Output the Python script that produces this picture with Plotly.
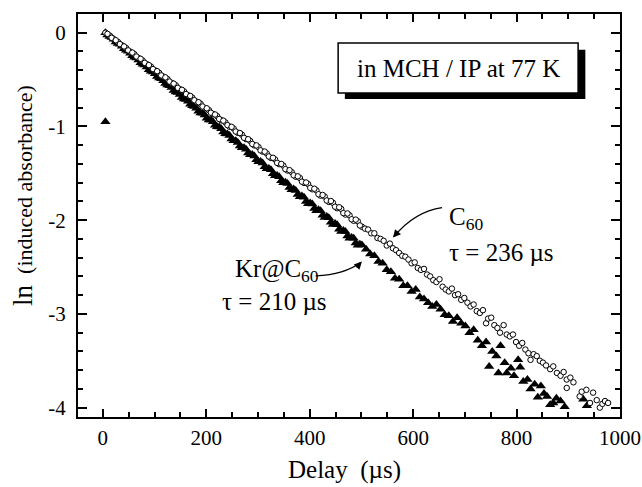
import plotly.graph_objects as go

# ---------------- data ----------------
c60_delay = [5, 13, 21, 29, 37, 45, 53, 61, 69, 77, 85, 93, 101, 109, 117, 125, 133, 141, 149, 157,
             165, 173, 181, 189, 197, 205, 213, 221, 229, 237, 245, 253, 261, 269, 277, 285, 293, 301,
             309, 317, 325, 333, 341, 349, 357, 365, 373, 381, 389, 397, 405, 413, 421, 429, 437, 445,
             453, 461, 469, 477, 485, 493, 501,
             507, 513, 519, 525, 531, 537, 543, 549, 555, 561, 567, 573, 579, 585, 591, 597, 603, 609,
             615, 621, 627, 633, 639, 645, 651, 657, 663, 669, 675, 681, 687, 693, 699, 705, 711, 717,
             723, 729, 735, 741, 745, 751, 757, 763, 768, 775, 781, 787, 793, 799, 805, 811, 817, 823,
             827, 833, 839, 845, 851, 857, 865, 871, 878, 885, 891, 897, 897, 904, 910, 922, 926, 935,
             942, 948, 955, 961, 966, 971, 977]
c60_ln = [0.000, -0.030, -0.068, -0.097, -0.135, -0.163, -0.202, -0.228, -0.270, -0.296, -0.335,
          -0.361, -0.402, -0.428, -0.468, -0.494, -0.535, -0.560, -0.603, -0.626, -0.668, -0.692,
          -0.735, -0.758, -0.802, -0.825, -0.868, -0.890, -0.934, -0.957, -1.002, -1.022, -1.068,
          -1.088, -1.135, -1.155, -1.202, -1.220, -1.268, -1.288, -1.336, -1.352, -1.402, -1.418,
          -1.470, -1.486, -1.536, -1.550, -1.602, -1.615, -1.670, -1.682, -1.738, -1.748, -1.805,
          -1.815, -1.872, -1.880, -1.940, -1.948, -2.006, -2.012, -2.070,
          -2.09, -2.10, -2.14, -2.14, -2.19, -2.20, -2.22, -2.27, -2.25, -2.30, -2.32, -2.35, -2.38,
          -2.39, -2.42, -2.46, -2.45, -2.51, -2.53, -2.52, -2.58, -2.60, -2.64, -2.66, -2.63, -2.71,
          -2.74, -2.76, -2.73, -2.80, -2.79, -2.85, -2.83, -2.88, -2.92, -2.90, -2.97, -2.99, -2.96,
          -3.10, -3.05, -3.04, -3.12, -3.15, -3.20, -3.12, -3.22, -3.24, -3.22, -3.30, -3.34, -3.31,
          -3.38, -3.42, -3.49, -3.43, -3.45, -3.50, -3.52, -3.55, -3.59, -3.56, -3.63, -3.66, -3.62,
          -3.70, -3.79, -3.68, -3.73, -3.88, -3.83, -3.81, -3.95, -3.84, -3.92, -4.00, -3.96, -3.93,
          -3.95]
# in-between readings of the dense early part of the C60 decay
c60_delay_mid = [9, 17, 25, 33, 41, 49, 57, 65, 73, 81, 89, 97, 105, 113, 121, 129, 137, 145, 153,
                 161, 169, 177, 185, 193, 201, 209, 217, 225, 233, 241, 249, 257, 265, 273, 281, 289,
                 297, 305, 313, 321, 329, 337, 345, 353, 361, 369, 377, 385, 393, 401, 409, 417, 425,
                 433, 441, 449, 457, 465, 473, 481, 489, 497]
c60_ln_mid = [-0.012, -0.054, -0.080, -0.121, -0.146, -0.188, -0.212, -0.254, -0.278, -0.321,
              -0.345, -0.388, -0.410, -0.455, -0.476, -0.521, -0.543, -0.588, -0.609, -0.654,
              -0.674, -0.720, -0.741, -0.787, -0.806, -0.853, -0.872, -0.920, -0.938, -0.986,
              -1.004, -1.054, -1.070, -1.121, -1.136, -1.187, -1.202, -1.255, -1.268, -1.320,
              -1.334, -1.388, -1.400, -1.455, -1.466, -1.521, -1.532, -1.589, -1.598, -1.655,
              -1.664, -1.723, -1.731, -1.790, -1.796, -1.856, -1.862, -1.924, -1.928, -1.990,
              -1.994, -2.056]

kr_delay = [5, 5, 13, 21, 29, 37, 45, 53, 61, 69, 77, 85, 93, 101, 109, 117, 125, 133, 141, 149, 157,
            165, 173, 181, 189, 197, 205, 213, 221, 229, 237, 245, 253, 261, 269, 277, 285, 293, 301,
            309, 317, 325, 333, 341, 349, 357, 365, 373, 381, 389, 397, 405, 413, 421, 429, 437, 445,
            453, 461, 469, 477, 485, 493, 501,
            509, 517, 525, 533, 541, 549, 557, 565, 573, 581, 589, 597, 605, 613, 621, 629, 637, 645,
            653, 661, 669, 677, 685, 693, 701, 709, 717, 725, 733, 741, 747, 753, 761, 765, 769, 777,
            781, 789, 795, 803, 807, 813, 821, 827, 835, 841, 847, 853, 859, 865, 871, 877, 885, 893,
            929, 936]
kr_ln = [-0.95, 0.000, -0.040, -0.070, -0.115, -0.145, -0.188, -0.218, -0.262, -0.292, -0.336, -0.366,
         -0.410, -0.438, -0.484, -0.512, -0.558, -0.585, -0.632, -0.658, -0.706, -0.731, -0.780,
         -0.805, -0.855, -0.878, -0.930, -0.950, -1.004, -1.024, -1.078, -1.097, -1.152, -1.170,
         -1.228, -1.243, -1.302, -1.316, -1.376, -1.390, -1.452, -1.462, -1.526, -1.536, -1.600,
         -1.608, -1.676, -1.682, -1.750, -1.754, -1.824, -1.828, -1.898, -1.900, -1.972, -1.975,
         -2.046, -2.048, -2.120, -2.120, -2.194, -2.192, -2.268, -2.264,
         -2.31, -2.36, -2.38, -2.44, -2.46, -2.53, -2.55, -2.62, -2.63, -2.70, -2.70, -2.76, -2.74,
         -2.82, -2.84, -2.88, -2.92, -2.90, -2.95, -3.01, -3.02, -3.08, -3.04, -3.10, -3.13, -3.20,
         -3.17, -3.28, -3.34, -3.30, -3.56, -3.40, -3.45, -3.63, -3.34, -3.52, -3.63, -3.58, -3.66,
         -3.49, -3.57, -3.72, -3.70, -3.80, -3.75, -3.89, -3.77, -3.85, -3.88, -3.97, -3.95, -3.90,
         -3.93, -3.99, -3.91, -3.98]
# in-between readings of the dense early part of the Kr@C60 decay
kr_delay_mid = [9, 17, 25, 33, 41, 49, 57, 65, 73, 81, 89, 97, 105, 113, 121, 129, 137, 145, 153,
                161, 169, 177, 185, 193, 201, 209, 217, 225, 233, 241, 249, 257, 265, 273, 281, 289,
                297, 305, 313, 321, 329, 337, 345, 353, 361, 369, 377, 385, 393, 401, 409, 417, 425,
                433, 441, 449, 457, 465, 473, 481, 489, 497]
kr_ln_mid = [-0.024, -0.050, -0.098, -0.124, -0.172, -0.198, -0.246, -0.270, -0.320, -0.344,
             -0.394, -0.418, -0.468, -0.492, -0.542, -0.565, -0.616, -0.638, -0.690, -0.712,
             -0.764, -0.786, -0.838, -0.858, -0.912, -0.932, -0.986, -1.006, -1.060, -1.080,
             -1.134, -1.152, -1.208, -1.226, -1.282, -1.300, -1.356, -1.374, -1.430, -1.448,
             -1.504, -1.522, -1.578, -1.596, -1.652, -1.668, -1.726, -1.742, -1.800, -1.816,
             -1.874, -1.888, -1.948, -1.962, -2.022, -2.036, -2.096, -2.110, -2.170, -2.184,
             -2.244, -2.258]

x_tick_vals = [0, 200, 400, 600, 800, 1000]
y_tick_vals = [0, -1, -2, -3, -4]
y_tick_text = ["0", "-1", "-2", "-3", "-4"]

SERIF = "Liberation Serif, Times New Roman, serif"

fig = go.Figure()
fig.add_trace(go.Scatter(
    x=kr_delay + kr_delay_mid, y=kr_ln + kr_ln_mid, mode="markers", name="Kr@C60",
    marker=dict(symbol="triangle-up", size=9, color="black", line=dict(width=0)),
))
fig.add_trace(go.Scatter(
    x=c60_delay + c60_delay_mid, y=c60_ln + c60_ln_mid, mode="markers", name="C60",
    marker=dict(symbol="circle", size=5.5, color="white", line=dict(width=1, color="black")),
))

axis_common = dict(
    showline=True, linewidth=2, linecolor="black", mirror="ticks",
    ticks="inside", tickwidth=1.5, tickcolor="black",
    showgrid=False, zeroline=False, automargin=False,
    tickfont=dict(family=SERIF, size=21, color="black"),
)

fig.update_layout(
    width=642, height=487,
    margin=dict(l=78, r=22, t=14, b=70, autoexpand=False),
    paper_bgcolor="white", plot_bgcolor="white",
    showlegend=False,
    font=dict(family=SERIF, color="black"),
    xaxis=dict(range=[-48, 1000], tickmode="array", tickvals=x_tick_vals, ticklen=8,
               minor=dict(dtick=50, tick0=0, ticks="inside", ticklen=5, tickwidth=1.5,
                          tickcolor="black"),
               ticklabelstandoff=1, **axis_common),
    yaxis=dict(range=[-4.1, 0.2], tickmode="array", tickvals=y_tick_vals, ticktext=y_tick_text,
               ticklen=9,
               minor=dict(dtick=0.2, tick0=0, ticks="inside", ticklen=5, tickwidth=1.5,
                          tickcolor="black"),
               ticklabelstandoff=6, **axis_common),
)

# boxed label with drop shadow
fig.add_shape(type="rect", xref="x", yref="y", x0=468, x1=933, y0=-0.707, y1=-0.181,
              fillcolor="black", line=dict(width=0), layer="above")
fig.add_shape(type="rect", xref="x", yref="y", x0=455, x1=919, y0=-0.643, y1=-0.110,
              fillcolor="white", line=dict(width=1.5, color="black"), layer="above")
fig.add_annotation(x=687, y=-0.377, xref="x", yref="y", text="in MCH / IP at 77 K",
                   showarrow=False, font=dict(family=SERIF, size=25, color="black"))

# series labels
fig.add_annotation(x=665, y=-1.98, xref="x", yref="y", text="C<sub>60</sub>", showarrow=False,
                   xanchor="left", yanchor="middle", font=dict(family=SERIF, size=25, color="black"))
fig.add_annotation(x=665, y=-2.345, xref="x", yref="y", text="τ = 236 µs", showarrow=False,
                   xanchor="left", yanchor="middle", font=dict(family=SERIF, size=25, color="black"))
fig.add_annotation(x=251, y=-2.54, xref="x", yref="y", text="Kr@C<sub>60</sub>", showarrow=False,
                   xanchor="left", yanchor="middle", font=dict(family=SERIF, size=25, color="black"))
fig.add_annotation(x=226, y=-2.87, xref="x", yref="y", text="τ = 210 µs", showarrow=False,
                   xanchor="left", yanchor="middle", font=dict(family=SERIF, size=25, color="black"))

# curved leader lines with arrowheads
fig.add_shape(type="path", xref="x", yref="y", path="M 656,-1.866 Q 603,-1.908 563,-2.175",
              line=dict(color="black", width=1.3), layer="above")
fig.add_annotation(x=561, y=-2.186, xref="x", yref="y", text="", showarrow=True,
                   ax=6.5, ay=-7.6, arrowhead=2, arrowsize=1.2, arrowwidth=1.3, arrowcolor="black")
fig.add_shape(type="path", xref="x", yref="y", path="M 411.6,-2.595 Q 467.5,-2.58 498.5,-2.452",
              line=dict(color="black", width=1.3), layer="above")
fig.add_annotation(x=501, y=-2.44, xref="x", yref="y", text="", showarrow=True,
                   ax=-6.9, ay=7.3, arrowhead=2, arrowsize=1.2, arrowwidth=1.3, arrowcolor="black")

# axis titles
fig.add_annotation(x=0.4926, y=-0.1315, xref="paper", yref="paper", xanchor="center",
                   yanchor="middle", text="Delay\u00a0\u00a0(µs)", showarrow=False,
                   font=dict(family=SERIF, size=25, color="black"))
fig.add_annotation(x=-0.1015, y=0.551, xref="paper", yref="paper", textangle=-90,
                   xanchor="center", yanchor="middle",
                   text="<span style='font-size:27px'>ln</span>\u00a0\u00a0(induced absorbance)",
                   showarrow=False, font=dict(family=SERIF, size=22, color="black"))

fig.write_html("out.html", config={"displayModeBar": False},
               post_script="document.body.style.margin='0px';")
